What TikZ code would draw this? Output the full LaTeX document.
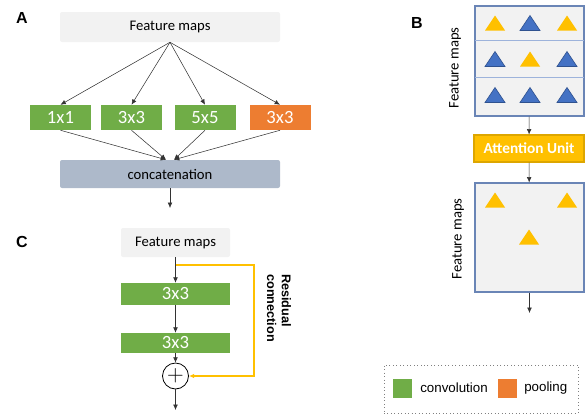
\documentclass[tikz,border=0pt]{standalone}
\usepackage{fontspec}
\setmainfont{Carlito}
\newfontfamily\arialfont{Liberation Sans}
\usetikzlibrary{arrows.meta}
\definecolor{boxgray}{HTML}{F2F2F2}
\definecolor{catblue}{HTML}{ADB9CA}
\definecolor{convgreen}{HTML}{70AD47}
\definecolor{poolorange}{HTML}{ED7D31}
\definecolor{attyellow}{HTML}{FFC000}
\definecolor{attedge}{HTML}{DDA600}
\definecolor{triblue}{HTML}{4472C4}
\definecolor{triedge}{HTML}{2F528F}
\definecolor{mapedge}{HTML}{6A85B6}
\definecolor{mapline}{HTML}{9DB3DB}
\tikzset{
  arr/.style={-{Latex[length=4pt,width=3.5pt]}, draw=black!80, line width=0.4pt},
  resid/.style={-{Latex[length=4pt,width=3.5pt]}, draw=attyellow, line width=1.2pt},
  fmap/.style={fill=boxgray, rounded corners=1.5pt, inner sep=0pt, font=\fontsize{11}{13}\selectfont},
  kern/.style={inner sep=0pt, text=white, minimum width=45.75pt, minimum height=18.75pt, font=\fontsize{14}{16}\selectfont},
  conv/.style={kern, fill=convgreen},
  pool/.style={kern, fill=poolorange},
  panel/.style={font=\arialfont\bfseries\fontsize{12}{14}\selectfont},
  fmbox/.style={draw=mapedge, fill=boxgray, line width=0.8pt, inner sep=0pt, minimum width=81.75pt},
  sidelabel/.style={rotate=90, font=\fontsize{11}{13}\selectfont},
}
\begin{document}
\begin{tikzpicture}[x=0.75pt,y=-0.75pt]
\useasboundingbox (0,0) rectangle (586,415);
% A
\node[panel] (labA) at (22,18) {A};
\node[fmap, minimum width=165pt, minimum height=22.5pt] (fmA) at (170,27) {Feature maps};
\node[conv] (k1) at (60.5,117.5) {1x1};
\node[conv] (k3) at (131.5,117.5) {3x3};
\node[conv] (k5) at (205,117.5) {5x5};
\node[pool] (p3) at (280,117.5) {3x3};
\node[fmap, fill=catblue, minimum width=165pt, minimum height=21pt] (cat) at (170,174) {concatenation};
\coordinate (outA) at (170,208);
\foreach \k in {k1,k3,k5,p3} \draw[arr] (fmA.south) -- (\k.north);
\draw[arr] (k1.south) -- ([xshift=-3pt]cat.north);
\draw[arr] (k3.south) -- ([xshift=-3pt]cat.north);
\draw[arr] (k5.south) -- ([xshift=3pt]cat.north);
\draw[arr] (p3.south) -- ([xshift=3pt]cat.north);
\draw[arr] (cat.south) -- (outA);
% C
\node[panel] (labC) at (22,242) {C};
\node[fmap, minimum width=81.75pt, minimum height=21.75pt] (fmC) at (175.5,242.5) {Feature maps};
\node[conv, minimum width=81.75pt, minimum height=16.5pt] (c1) at (175.5,294) {3x3};
\node[conv, minimum width=81.75pt, minimum height=15pt] (c2) at (175.5,343) {3x3};
\node[draw, circle, line width=0.6pt, minimum size=19.5pt, inner sep=0pt] (plus) at (175.5,376) {\fontsize{16}{16}\selectfont$+$};
\coordinate (resA) at (175.5,265);
\coordinate (resB) at (254,376);
\coordinate (outC) at (175.5,410);
\draw[arr] (fmC) -- (c1);
\draw[arr] (c1) -- (c2);
\draw[arr] (c2) -- (plus);
\draw[arr] (plus) -- (outC);
\draw[resid] (resA) -| (resB) -- (plus.east);
\node[rotate=-90, align=left, font=\arialfont\bfseries\fontsize{9.5}{11}\selectfont] (restxt) at (279,308) {Residual\\connection};
% B
\node[panel] (labB) at (417,23) {B};
\node[fmbox, minimum height=82.5pt] (mapin) at (529.5,61) {};
\draw[mapline, line width=0.6pt] (475,40.5) -- (584,40.5) (475,77.5) -- (584,77.5);
\node[draw=attedge, fill=attyellow, line width=0.8pt, text=white, inner sep=0pt,
  minimum width=82.5pt, minimum height=20.25pt, font=\bfseries\fontsize{11.5}{13}\selectfont] (att) at (529,148.5) {Attention Unit};
\node[fmbox, minimum height=81.75pt] (mapout) at (529.5,237.5) {};
\coordinate (outB) at (529.5,313);
\foreach \x/\y/\c in {495/23/attyellow,567/23/attyellow,530/59/attyellow,495/200/attyellow,567/200/attyellow,529/237/attyellow}
  \fill[\c] (\x-10,\y+7.5) -- (\x,\y-7.5) -- (\x+10,\y+7.5) -- cycle;
\foreach \x/\y in {530/23,495/59,567/59,495/95,530/95,567/95}
  \filldraw[fill=triblue, draw=triedge, line width=0.5pt] (\x-10,\y+7.5) -- (\x,\y-7.5) -- (\x+10,\y+7.5) -- cycle;
\node[sidelabel] (fmlabin) at (455,68) {Feature maps};
\node[sidelabel] (fmlabout) at (458,239) {Feature maps};
\draw[arr] (mapin) -- (att);
\draw[arr] (att) -- (mapout);
\draw[arr] (mapout) -- (outB);
% legend
\node[draw=gray, dotted, line width=0.6pt, minimum width=145.5pt, minimum height=36pt, inner sep=0pt] (legend) at (481,389) {};
\node[fill=convgreen, minimum size=14.25pt, inner sep=0pt] (legconv) at (402.5,388.5) {};
\node[anchor=west, inner sep=0pt, font=\arialfont\fontsize{10}{12}\selectfont] (legconvtxt) at (420,388) {convolution};
\node[fill=poolorange, minimum size=14.25pt, inner sep=0pt] (legpool) at (507.5,388.5) {};
\node[anchor=west, inner sep=0pt, font=\arialfont\fontsize{10}{12}\selectfont] (legpooltxt) at (524,388) {pooling};
\end{tikzpicture}
\end{document}
